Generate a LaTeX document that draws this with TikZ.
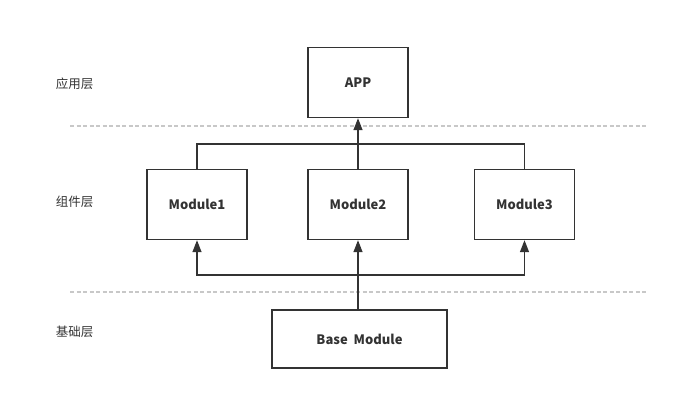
\documentclass[tikz,border=0pt]{standalone}
\usepackage{fontspec}
\setmainfont{Noto Sans CJK SC}
\usetikzlibrary{arrows.meta}
\tikzset{
	box/.style={draw=line,line width=1.4pt,minimum width=100pt,minimum height=70pt,inner sep=0pt,font=\bfseries\fontsize{13}{15}\selectfont,text=line},
	layer/.style={font=\fontsize{12.5}{15}\selectfont,text=line},
	sep/.style={draw=sepgray,line width=1.1pt,dash pattern=on 4pt off 2.5pt},
	link/.style={draw=line,line width=1.4pt},
	up/.style={link,-{Triangle[length=12pt,width=9pt]}}
}
\definecolor{line}{HTML}{333333}
\definecolor{sepgray}{HTML}{C8C8C8}
\begin{document}
\begin{tikzpicture}[x=1pt,y=-1pt]
		\useasboundingbox(0,0)rectangle(680,401);
		\node[layer](l1)at(74.5,84){应用层};
		\node[layer](l2)at(74.5,202){组件层};
		\node[layer](l3)at(74.5,332){基础层};
		\coordinate(s1a)at(70,126);\coordinate(s1b)at(648,126);
		\coordinate(s2a)at(70,292);\coordinate(s2b)at(648,292);
		\draw[sep](s1a)--(s1b);
		\draw[sep](s2a)--(s2b);
		\node[box](app)at(358,82.5){APP};
		\node[box](m1)at(197,204.5){Module1};
		\node[box](m2)at(358,204.5){Module2};
		\node[box](m3)at(524.5,204.5){Module3};
		\node[box,minimum width=175pt,minimum height=58pt](base)at(359.5,339){Base\ \ Module};
		\coordinate(top)at(358,144);
		\coordinate(bot)at(358,275);
		\draw[link](m1.north)|-(top)-|(m3.north);
		\draw[up](m2.north)--(app.south);
		\draw[up](bot)-|(m1.south);
		\draw[up](bot)-|(m3.south);
		\draw[up](base.north-|m2.south)--(m2.south);
	\end{tikzpicture}
\end{document}
